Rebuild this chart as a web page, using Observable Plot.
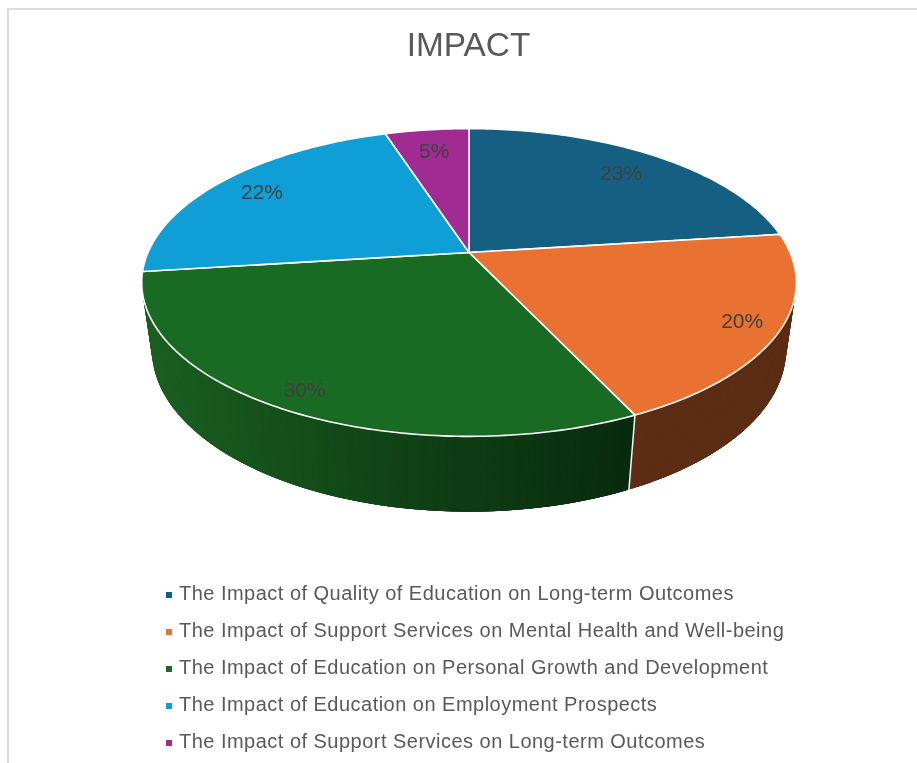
<!DOCTYPE html>
<html>
<head>
<meta charset="utf-8">
<script src="https://cdn.jsdelivr.net/npm/d3@7"></script>
<script src="https://cdn.jsdelivr.net/npm/@observablehq/plot@0.6"></script>
<style>
  html, body { margin: 0; background: #fff; }
  #frame { position: absolute; left: 7px; top: 8px; width: 910px; height: 755px; box-sizing: border-box;
           border-left: 2px solid #dcdcdc; border-top: 2px solid #dcdcdc; overflow: hidden;
           font-family: "Liberation Sans", sans-serif; color: #595959; filter: blur(0.4px); }
  #title { position: absolute; left: 1px; width: 917px; top: 15px; text-align: center; font-size: 33.4px; line-height: 40px; }
  #chart { position: absolute; left: -9px; top: 70px; }
  #chart svg { display: block; background: none; }
  #legend { position: absolute; left: 0; top: 565px; font-size: 20px; letter-spacing: 0.48px; }
  .row { position: relative; height: 37.1px; line-height: 37.1px; padding-left: 170px; white-space: nowrap; }
  .key { position: absolute; left: 157px; top: 17px; width: 6px; height: 6px; }
</style>
</head>
<body>
<div id="frame">
  <div id="title">IMPACT</div>
  <div id="chart"></div>
  <div id="legend"></div>
</div>
<script>
const categories = [
  "The Impact of Quality of Education on Long-term Outcomes",
  "The Impact of Support Services on Mental Health and Well-being",
  "The Impact of Education on Personal Growth and Development",
  "The Impact of Education on Employment Prospects",
  "The Impact of Support Services on Long-term Outcomes"
];
const values = [23, 20, 30, 22, 5];
const topColors = ["#156082", "#E97132", "#196B24", "#0F9ED5", "#A02B93"];
const sideStart = ["#0b3041", "#5c2c14", "#08280c", "#084f6b", "#50164a"];
const sideEnd   = ["#0b3041", "#5c2c14", "#1a5f21", "#084f6b", "#50164a"];
const labelReach = [0.8, 0.89, 0.9, 0.83, 0.8];

// Perspective view of a tilted disc, in pixels around the pie's apex
const R = 321, B = 148, K = 0.195, DROP = 68.7, DEEP = 0.031;
const rad = (t) => t * Math.PI / 180;
function project(deg, r, depth) {
  const s = Math.sin(rad(deg)), c = Math.cos(rad(deg));
  const w = 1 + K * r * c + DEEP * depth;
  return { x: R * r * s / w, y: (-B * r * c + DROP * depth) / w };
}

const total = d3.sum(values);
const starts = d3.cumsum([0, ...values]).map((v) => v / total * 360);

const tops = [], strips = [], seams = [], labels = [];
values.forEach((v, i) => {
  const a0 = starts[i], a1 = starts[i + 1];
  const n = Math.ceil(a1 - a0);
  const arc = d3.range(n + 1).map((j) => a0 + (a1 - a0) * j / n);
  tops.push({ id: i, color: topColors[i], ...project(0, 0, 0) });
  arc.forEach((a) => tops.push({ id: i, color: topColors[i], ...project(a, 1, 0) }));

  const shade = d3.interpolateRgb(sideStart[i], sideEnd[i]);
  d3.pairs(arc).forEach(([p, q], j) => {
    const mid = project((p + q) / 2, 1, 1);
    const color = shade(Math.max(0, Math.min(1, (168 - mid.x) / 480)));
    const id = `${i}-${j}`;
    const order = Math.cos(rad((p + q) / 2));
    if (order > 0.35) return;
    // each strip overlaps its neighbours inside the slice, so no seam shows between them
    const pa = Math.max(a0, p - 1.5), qa = Math.min(a1, q + 1.5);
    [project(pa, 1, 0), project(qa, 1, 0), project(qa, 1, 1), project(pa, 1, 1)]
      .forEach((pt) => strips.push({ id, order, color, ...pt }));
  });

  if (Math.cos(rad(a0)) < -0.3) {
    seams.push({ id: i, ...project(a0, 1, 0) }, { id: i, ...project(a0, 1, 1) });
  }
  labels.push({ text: `${Math.round(v / total * 100)}%`, ...project((a0 + a1) / 2, labelReach[i], 0) });
});
strips.sort((a, b) => d3.descending(a.order, b.order));

const chart = Plot.plot({
  width: 917,
  height: 490,
  margin: 0,
  style: { background: "none" },
  x: { domain: [-468.5, 448.5], range: [0, 917], axis: null },
  y: { domain: [-172, 318], range: [0, 490], axis: null },
  color: { type: "identity" },
  marks: [
    Plot.line(strips, { x: "x", y: "y", z: "id", fill: "color", stroke: "none", curve: "linear-closed" }),
    Plot.line(seams, { x: "x", y: "y", z: "id", stroke: "#f4f4f4", strokeWidth: 1.5 }),
    Plot.line(tops, { x: "x", y: "y", z: "id", fill: "color", stroke: "#ffffff", strokeWidth: 1.6, strokeLinejoin: "round", curve: "linear-closed" }),
    Plot.text(labels, { x: "x", y: "y", text: "text", fill: "#404040", fontSize: 21, fontFamily: "Liberation Sans, sans-serif" })
  ]
});
document.getElementById("chart").append(chart);

const legend = document.getElementById("legend");
categories.forEach((c, i) => {
  const row = document.createElement("div");
  row.className = "row";
  row.textContent = c;
  const key = document.createElement("span");
  key.className = "key";
  key.style.background = topColors[i];
  row.append(key);
  legend.append(row);
});
</script>
</body>
</html>
